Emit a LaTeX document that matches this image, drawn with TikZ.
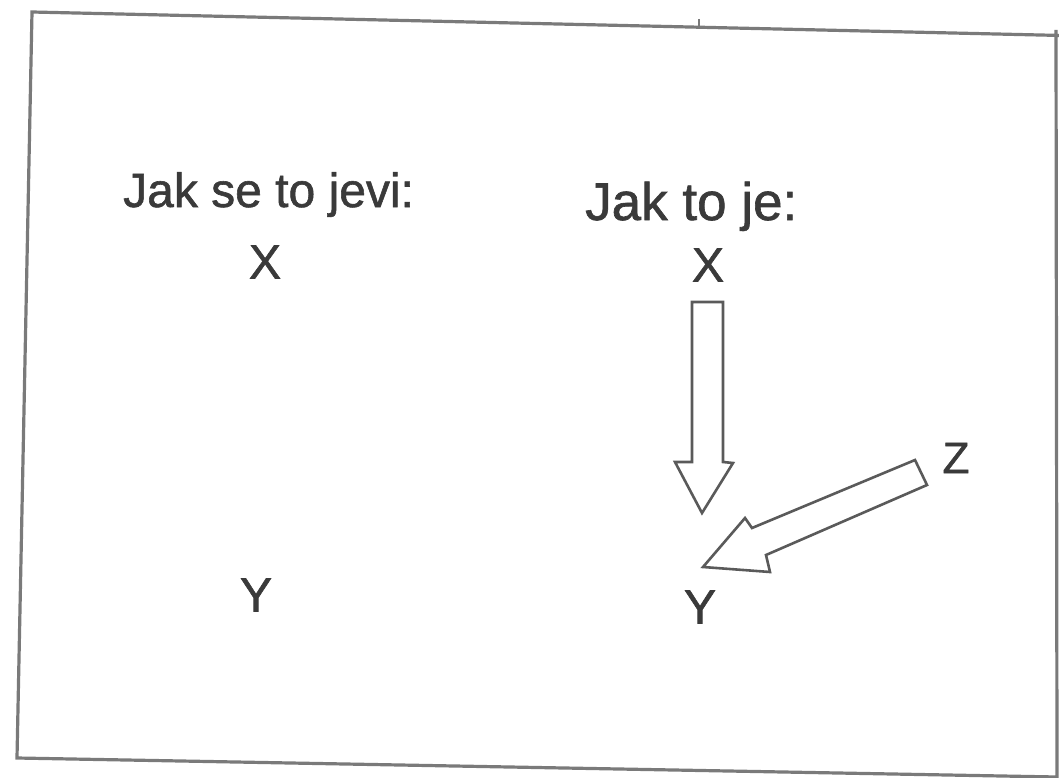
\documentclass[tikz,border=0pt]{standalone}
\usepackage{fontspec}
\setmainfont{Liberation Sans}[BoldFont=Liberation Sans,BoldFeatures={FakeBold=1.2}]
\definecolor{ink}{HTML}{3A3A3A}
\definecolor{framegray}{HTML}{7A7A7A}
\definecolor{arrowgray}{HTML}{5A5A5A}
\begin{document}
\begin{tikzpicture}[x=1pt,y=-1pt,
  title/.style={anchor=base west,inner sep=0pt,text=ink},
  letter/.style={inner sep=0pt,text=ink,font=\fontsize{48}{52}\bfseries},
  blockarrow/.style={draw=arrowgray,line width=2.6pt,line join=miter,fill=white},
  frameline/.style={draw=framegray,line width=3.2pt}]
\useasboundingbox (0,0) rectangle (1059,778);
% frame
\draw[frameline] (1062,35.5) -- (32,12) -- (17,758) -- (1057,777) -- (1056,30);
\draw[framegray,line width=1.5pt] (699,19) -- (699,27);
% titles
\node[title,font=\fontsize{48}{52}\bfseries] (t1) at (123,207) {Jak se to jevi:};
\node[title,font=\fontsize{53}{57}\bfseries] (t2) at (585,220) {Jak to je:};
% letters
\node[letter] (x1) at (265,262) {X};
\node[letter] (y1) at (256,595) {Y};
\node[letter] (x2) at (708,265) {X};
\node[letter] (y2) at (700,607) {Y};
\node[letter,font=\fontsize{44}{48}\bfseries] (z) at (956,458) {Z};
% block arrows
\draw[blockarrow] (692,302) -- (723,302) -- (723,462) -- (733,463) -- (702,513) -- (675,462) -- (692,462) -- cycle;
\draw[blockarrow] (915,460) -- (752,528) -- (745,518) -- (703,567) -- (770,572) -- (766,555) -- (927,485) -- cycle;
\end{tikzpicture}
\end{document}
